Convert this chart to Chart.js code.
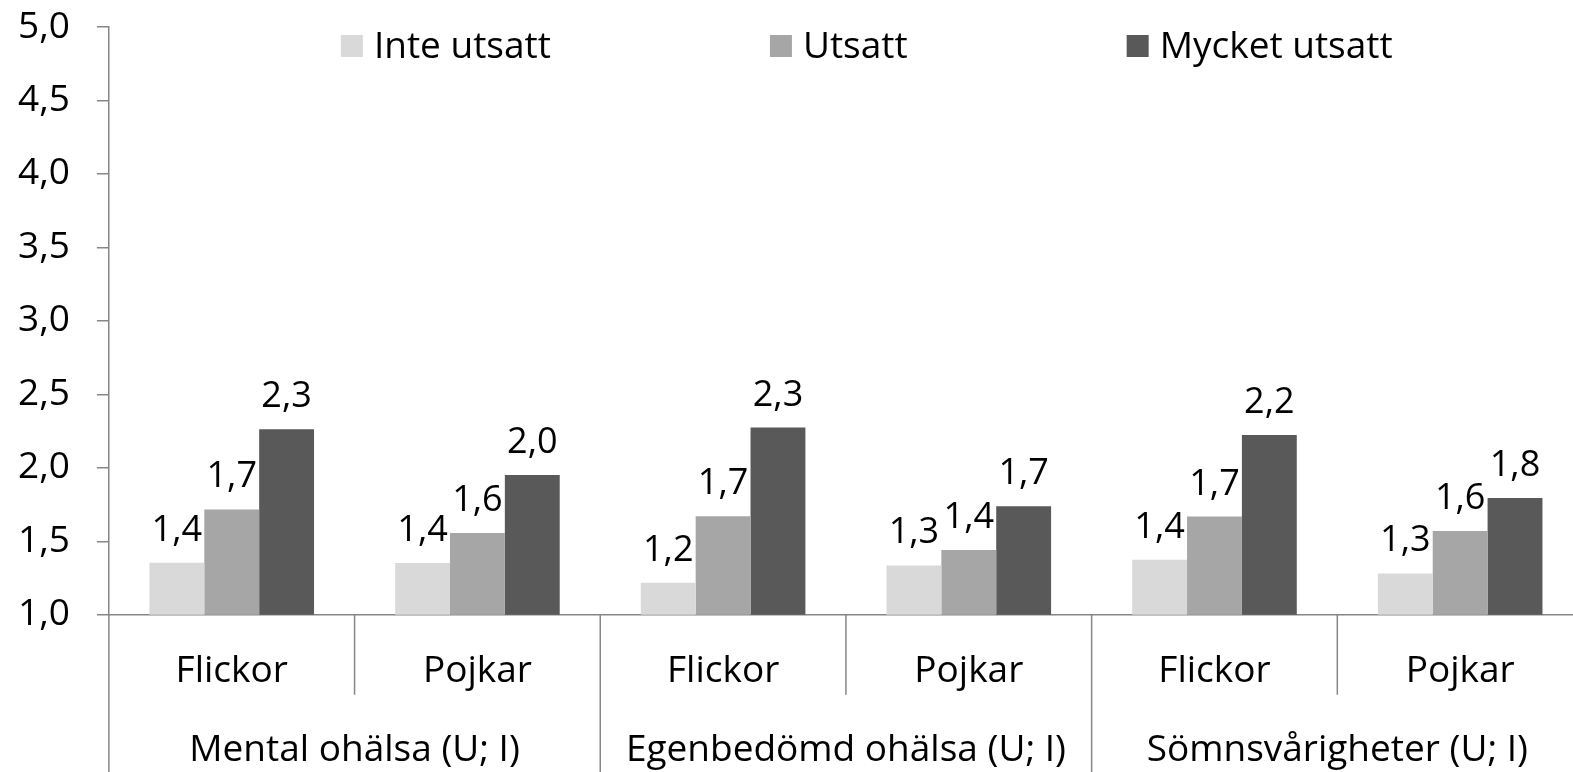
<!DOCTYPE html>
<html>
<head>
<meta charset="utf-8">
<script src="https://cdn.jsdelivr.net/npm/chart.js@4"></script>
<style>
  html, body { margin: 0; padding: 0; background: #fff; overflow: hidden; }
</style>
</head>
<body>
<canvas id="chart" width="1590" height="772"></canvas>
<script>
const categories = ['Flickor', 'Pojkar', 'Flickor', 'Pojkar', 'Flickor', 'Pojkar'];
const groups = ['Mental ohälsa (U; I)', 'Egenbedömd ohälsa (U; I)', 'Sömnsvårigheter (U; I)'];
const seriesNames = ['Inte utsatt', 'Utsatt', 'Mycket utsatt'];
const inteUtsatt = [1.354, 1.352, 1.218, 1.336, 1.375, 1.281];
const utsatt = [1.717, 1.557, 1.670, 1.441, 1.668, 1.570];
const mycketUtsatt = [2.263, 1.951, 2.274, 1.738, 2.224, 1.795];
const yTicks = [1.0, 1.5, 2.0, 2.5, 3.0, 3.5, 4.0, 4.5, 5.0];

const FONT = 'Open Sans';
const axisColor = '#868686';
const fmt = v => v.toFixed(1).replace('.', ',');

// value labels above each bar
const valueLabels = {
    id: 'valueLabels',
    afterDatasetsDraw(chart) {
        const ctx = chart.ctx;
        ctx.save();
        ctx.font = '36px "' + FONT + '"';
        ctx.fillStyle = '#000';
        ctx.textAlign = 'center';
        ctx.textBaseline = 'alphabetic';
        chart.data.datasets.forEach((ds, i) => {
            chart.getDatasetMeta(i).data.forEach((bar, j) => {
                ctx.fillText(fmt(ds.data[j]), bar.x, bar.y - 22);
            });
        });
        ctx.restore();
    }
};

// legend inside the plot, spread out like the original
const spreadLegend = {
    id: 'spreadLegend',
    afterDraw(chart) {
        const ctx = chart.ctx;
        const area = chart.chartArea;
        ctx.save();
        ctx.font = '37px "' + FONT + '"';
        ctx.textBaseline = 'middle';
        let x = area.left + 232;
        const y = 46;
        chart.data.datasets.forEach(ds => {
            ctx.fillStyle = ds.backgroundColor;
            ctx.fillRect(x, y - 11, 22, 22);
            ctx.fillStyle = '#000';
            ctx.fillText(ds.label, x + 33, y + 1);
            x += 33 + ctx.measureText(ds.label).width + 219;
        });
        ctx.restore();
    }
};

// category separators below the axis: short between sexes, long between groups
const separators = {
    id: 'separators',
    afterDraw(chart) {
        const ctx = chart.ctx;
        const xs = chart.scales.x;
        const area = chart.chartArea;
        const half = (xs.getPixelForValue(1) - xs.getPixelForValue(0)) / 2;
        ctx.save();
        ctx.strokeStyle = axisColor;
        ctx.lineWidth = 1.5;
        for (let i = 0; i <= categories.length; i++) {
            const px = xs.getPixelForValue(Math.min(i, categories.length - 1)) + (i < categories.length ? -half : half);
            const end = i % 2 === 0 ? chart.height : area.bottom + 80;
            ctx.beginPath();
            ctx.moveTo(px, area.bottom);
            ctx.lineTo(px, end);
            ctx.stroke();
        }
        ctx.restore();
    }
};

const ctx = document.getElementById('chart').getContext('2d');
new Chart(ctx, {
    type: 'bar',
    data: {
        labels: categories,
        datasets: [
            { label: seriesNames[0], data: inteUtsatt, backgroundColor: '#d9d9d9' },
            { label: seriesNames[1], data: utsatt, backgroundColor: '#a6a6a6' },
            { label: seriesNames[2], data: mycketUtsatt, backgroundColor: '#595959' }
        ]
    },
    options: {
        responsive: false,
        devicePixelRatio: 1,
        animation: false,
        layout: { padding: { top: 27, left: -9, right: 7, bottom: 0 } },
        datasets: { bar: { barPercentage: 1, categoryPercentage: 0.67 } },
        plugins: {
            legend: { display: false },
            tooltip: { enabled: false }
        },
        scales: {
            y: {
                min: 1, max: 5,
                afterBuildTicks(scale) { scale.ticks = yTicks.map(v => ({ value: v })); },
                afterFit(scale) { scale.paddingTop = 20; scale.paddingBottom = 20; },
                ticks: {
                    callback: v => fmt(v),
                    color: '#000',
                    font: { family: FONT, size: 37 },
                    padding: 27
                },
                grid: { drawOnChartArea: false, tickLength: 12, color: axisColor, lineWidth: 1.5 },
                border: { color: axisColor, width: 1.5 }
            },
            x: {
                type: 'category',
                offset: true,
                ticks: {
                    color: '#000',
                    font: { family: FONT, size: 37 },
                    padding: 35
                },
                grid: { display: false, drawTicks: false },
                border: { color: axisColor, width: 1.5 }
            },
            x2: {
                type: 'category',
                labels: groups,
                position: 'bottom',
                offset: true,
                ticks: {
                    color: '#000',
                    font: { family: FONT, size: 37, lineHeight: 1.05 },
                    padding: 2
                },
                grid: { display: false, drawTicks: false },
                border: { display: false }
            }
        }
    },
    plugins: [valueLabels, spreadLegend, separators]
});
</script>
</body>
</html>
